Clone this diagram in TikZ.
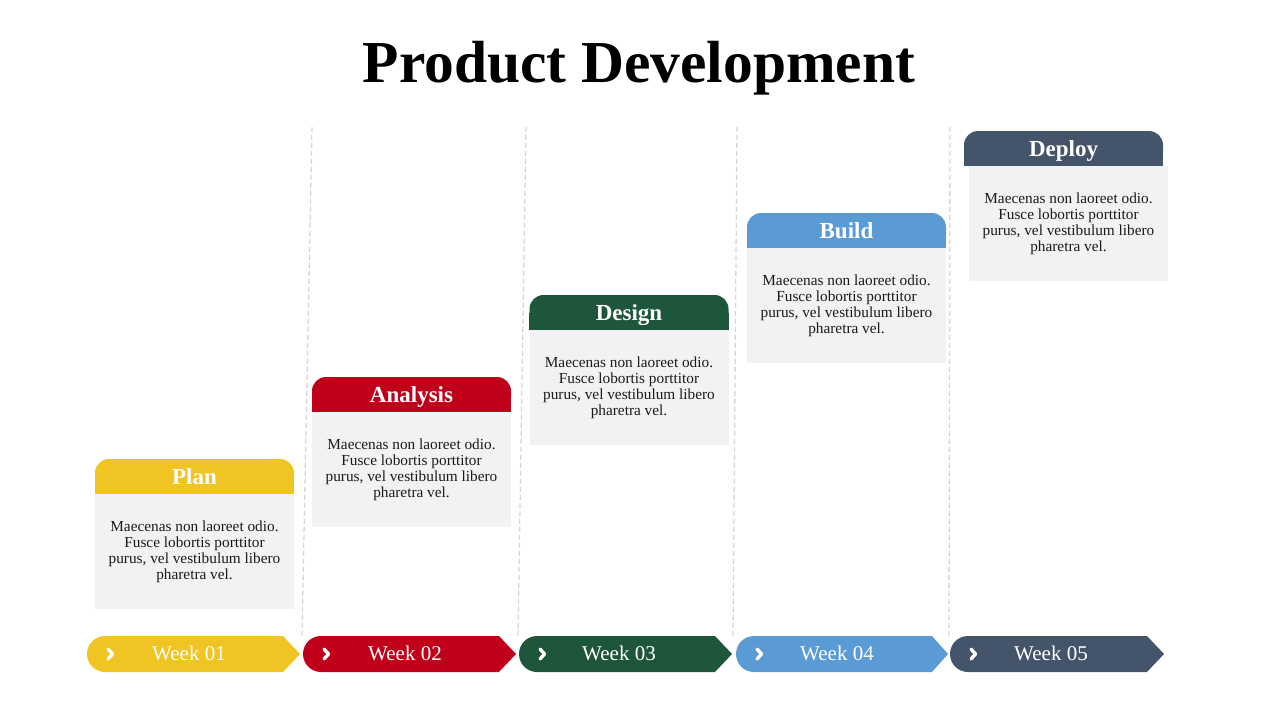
\documentclass[tikz,border=0pt]{standalone}
\usepackage{fontspec}
\setmainfont{Liberation Serif}
\usepackage{xcolor}
\usepackage{tikz}
\usetikzlibrary{positioning,backgrounds}
\definecolor{plancol}{HTML}{F0C422}
\definecolor{analysiscol}{HTML}{C0001A}
\definecolor{designcol}{HTML}{1E563C}
\definecolor{buildcol}{HTML}{5B9BD5}
\definecolor{deploycol}{HTML}{44546A}
\definecolor{cardgray}{HTML}{F2F2F2}
\definecolor{guidegray}{HTML}{D6D6D6}
\definecolor{ink}{HTML}{1A1A1A}
\tikzset{
  tab/.style={rectangle,rounded corners=14pt,minimum width=199pt,minimum height=35pt,
    inner sep=0pt,text=white,text height=15.2pt,text depth=0pt,
    font=\fontsize{23}{26}\selectfont\bfseries},
  card/.style={rectangle,fill=cardgray,minimum width=199pt,minimum height=115pt,
    align=center,inner sep=0pt,text=ink,
    font=\fontsize{15.3}{16}\selectfont},
  week/.style={inner sep=0pt,text=white,text height=13.9pt,text depth=0pt,
    font=\fontsize{21}{24}\selectfont},
  chev/.style={draw=white,line width=3.4pt,line cap=round,line join=round},
  guide/.style={draw=guidegray,line width=1.3pt,dash pattern=on 5pt off 3pt}
}
\begin{document}
\begin{tikzpicture}[x=1pt,y=-1pt]
\useasboundingbox (0,0) rectangle (1280,720);
\node[anchor=base,font=\fontsize{59.5}{64}\selectfont\bfseries] (title) at (639,82) {Product Development};
% guides between the weeks
\draw[guide] (312,127) -- (302,636);
\draw[guide] (526,127) -- (518,636);
\draw[guide] (737,127) -- (733,636);
\draw[guide] (950,127) -- (949,636);
% stages
\node[tab,fill=plancol] (plan) at (194.5,476.5) {Plan};
\node[card,below=0pt of plan] (plantext) {Maecenas non laoreet odio.\\Fusce lobortis porttitor\\purus, vel vestibulum libero\\pharetra vel.};
\node[tab,fill=analysiscol] (analysis) at (411.5,394.5) {Analysis};
\node[card,below=0pt of analysis] (analysistext) {Maecenas non laoreet odio.\\Fusce lobortis porttitor\\purus, vel vestibulum libero\\pharetra vel.};
\node[tab,fill=designcol] (design) at (629,312.5) {Design};
\node[card,below=0pt of design] (designtext) {Maecenas non laoreet odio.\\Fusce lobortis porttitor\\purus, vel vestibulum libero\\pharetra vel.};
\node[tab,fill=buildcol] (build) at (846.5,230.5) {Build};
\node[card,below=0pt of build] (buildtext) {Maecenas non laoreet odio.\\Fusce lobortis porttitor\\purus, vel vestibulum libero\\pharetra vel.};
\node[tab,fill=deploycol] (deploy) at (1063.5,148.5) {Deploy};
\node[card,below=0pt of deploy,xshift=5pt] (deploytext) {Maecenas non laoreet odio.\\Fusce lobortis porttitor\\purus, vel vestibulum libero\\pharetra vel.};
\begin{scope}[on background layer]
  \fill[plancol] (plan.west) rectangle (plan.south east);
  \fill[analysiscol] (analysis.west) rectangle (analysis.south east);
  \fill[designcol] (design.west) rectangle (design.south east);
  \fill[buildcol] (build.west) rectangle (build.south east);
  \fill[deploycol] (deploy.west) rectangle (deploy.south east);
\end{scope}
% week arrows
\fill[plancol] (105,636) -- (283,636) -- (300,654) -- (283,672) -- (105,672) arc (90:270:18) -- cycle;
\fill[analysiscol] (321,636) -- (499,636) -- (516,654) -- (499,672) -- (321,672) arc (90:270:18) -- cycle;
\fill[designcol] (537,636) -- (715,636) -- (732,654) -- (715,672) -- (537,672) arc (90:270:18) -- cycle;
\fill[buildcol] (754,636) -- (932,636) -- (948,654) -- (932,672) -- (754,672) arc (90:270:18) -- cycle;
\fill[deploycol] (968,636) -- (1147,636) -- (1164,654) -- (1147,672) -- (968,672) arc (90:270:18) -- cycle;
\node[week] (w1) at (189,654) {Week 01};
\node[week] (w2) at (405,654) {Week 02};
\node[week] (w3) at (619,654) {Week 03};
\node[week] (w4) at (837,654) {Week 04};
\node[week] (w5) at (1051,654) {Week 05};
\draw[chev] (108,649) -- (112.5,654) -- (108,659);
\draw[chev] (324,649) -- (328.5,654) -- (324,659);
\draw[chev] (540,649) -- (544.5,654) -- (540,659);
\draw[chev] (757,649) -- (761.5,654) -- (757,659);
\draw[chev] (971,649) -- (975.5,654) -- (971,659);
\end{tikzpicture}
\end{document}
